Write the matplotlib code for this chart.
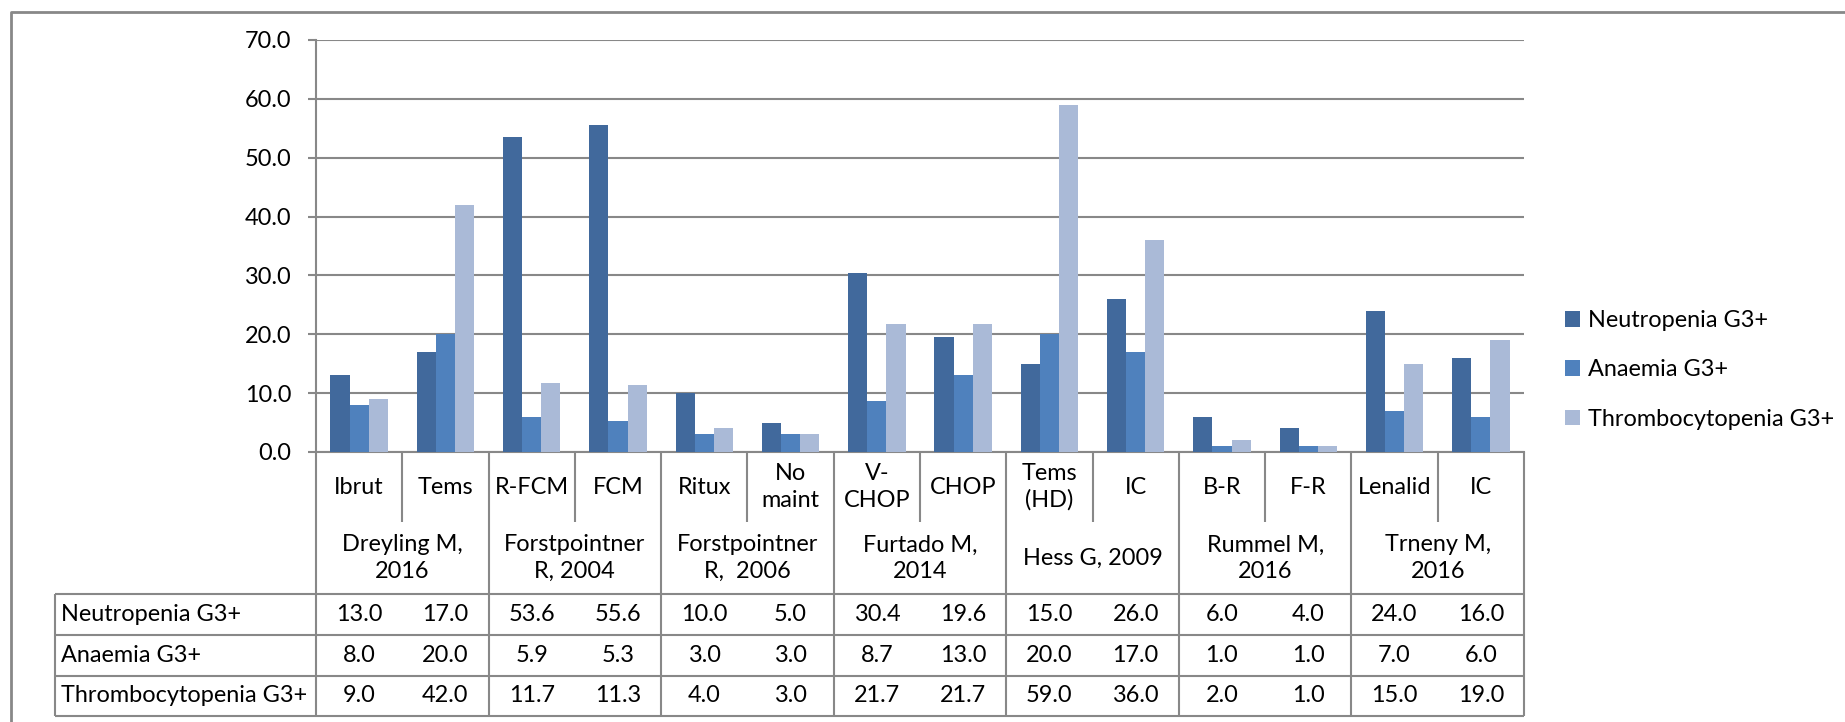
import numpy as np
import matplotlib
matplotlib.use("Agg")
import matplotlib.pyplot as plt

plt.rcParams['font.family'] = ['Lato', 'DejaVu Sans']

# treatments (bottom label row) and studies (group row)
arms = ["Ibrut", "Tems", "R-FCM", "FCM", "Ritux", "No\nmaint", "V-\nCHOP", "CHOP",
        "Tems\n(HD)", "IC", "B-R", "F-R", "Lenalid", "IC"]
studies = ["Dreyling M,\n2016", "Forstpointner\nR, 2004", "Forstpointner\nR,  2006",
           "Furtado M,\n2014", "Hess G, 2009", "Rummel M,\n2016", "Trneny M,\n2016"]
study_size = [2, 2, 2, 2, 2, 2, 2]

series = ["Neutropenia G3+", "Anaemia G3+", "Thrombocytopenia G3+"]
neutro = [13.0, 17.0, 53.6, 55.6, 10.0, 5.0, 30.4, 19.6, 15.0, 26.0, 6.0, 4.0, 24.0, 16.0]
anaemia = [8.0, 20.0, 5.9, 5.3, 3.0, 3.0, 8.7, 13.0, 20.0, 17.0, 1.0, 1.0, 7.0, 6.0]
thrombo = [9.0, 42.0, 11.7, 11.3, 4.0, 3.0, 21.7, 21.7, 59.0, 36.0, 2.0, 1.0, 15.0, 19.0]
colors = ["#41699C", "#4F81BD", "#AABAD7"]

W, H = 1845, 722
grey = "#888888"

fig = plt.figure(figsize=(W / 100, H / 100), dpi=100)

# size the font so the longest row label spans ~246 px
probe = fig.text(0, 0, "Thrombocytopenia G3+", fontsize=20)
pw = probe.get_window_extent(renderer=fig.canvas.get_renderer()).width
probe.remove()
fs = 20 * 246 / pw

# plot area in pixels
px0, px1 = 316, 1524
py_top, py0 = 40, 452

ax = fig.add_axes([px0 / W, 1 - py0 / H, (px1 - px0) / W, (py0 - py_top) / H])
x = np.arange(len(arms))
bw = 0.667 / 3
for i, vals in enumerate([neutro, anaemia, thrombo]):
    ax.bar(x + (i - 1) * bw, vals, bw, color=colors[i], label=series[i], zorder=3)
ax.set_xlim(-0.5, len(arms) - 0.5)
ax.set_ylim(0, 70)
ax.set_yticks(np.arange(0, 71, 10))
ax.set_yticklabels([f"{v:.1f}" for v in np.arange(0, 71, 10)], fontsize=fs)
ax.set_xticks([])
ax.yaxis.grid(True, color=grey, linewidth=1.5, zorder=0)
for s in ["top", "right"]:
    ax.spines[s].set_visible(False)
for s in ["left", "bottom"]:
    ax.spines[s].set_color(grey)
    ax.spines[s].set_linewidth(1.5)
ax.tick_params(axis="y", length=5.8, width=1.5, color=grey, pad=12)

# legend centred on the middle entry at y ~ 370 px
leg_y = 1 - (370 - py_top) / (py0 - py_top)
ax.legend(loc="center left", bbox_to_anchor=((1565 - px0) / (px1 - px0), leg_y),
          frameon=False, fontsize=fs, handlelength=0.65, handleheight=0.65,
          handletextpad=0.35, labelspacing=1.2, borderaxespad=0, borderpad=0)

# overlay in pixel coordinates for the data table and frame
ov = fig.add_axes([0, 0, 1, 1], zorder=-1)
ov.set_xlim(0, W)
ov.set_ylim(H, 0)
ov.axis("off")

lw = 1.5
ov.plot([11, 11, W + 5], [H + 5, 12, 12], color=grey, lw=2)

cw = (px1 - px0) / len(arms)
row_cat = 522
rows = [594, 635, 676, 716]
lab_x0 = 55

def vline(xp, y0, y1):
    ov.plot([xp, xp], [y0, y1], color=grey, lw=lw, solid_capstyle="butt")

def hline(y, x0, x1):
    ov.plot([x0, x1], [y, y], color=grey, lw=lw, solid_capstyle="butt")

# study boundaries run the full table height, arm boundaries only the first row
edges = np.cumsum([0] + study_size)
for k in range(len(arms) + 1):
    xp = px0 + k * cw
    if k in edges:
        vline(xp, py0, rows[-1])
    else:
        vline(xp, py0, row_cat)
vline(lab_x0, rows[0], rows[-1])
for y in rows:
    hline(y, lab_x0, px1)

for k, name in enumerate(arms):
    ov.text(px0 + (k + 0.5) * cw, 487, name, ha="center", va="center",
            fontsize=fs, linespacing=1.3)
for g, name in enumerate(studies):
    xc = px0 + (edges[g] + edges[g + 1]) / 2 * cw
    ov.text(xc, 558, name, ha="center", va="center", fontsize=fs, linespacing=1.3)

for r, (name, vals) in enumerate(zip(series, [neutro, anaemia, thrombo])):
    yc = (rows[r] + rows[r + 1]) / 2
    ov.text(lab_x0 + 6, yc, name, ha="left", va="center", fontsize=fs)
    for k, v in enumerate(vals):
        ov.text(px0 + (k + 0.5) * cw, yc, f"{v:.1f}", ha="center", va="center", fontsize=fs)

fig.savefig("out.png", dpi=100)
